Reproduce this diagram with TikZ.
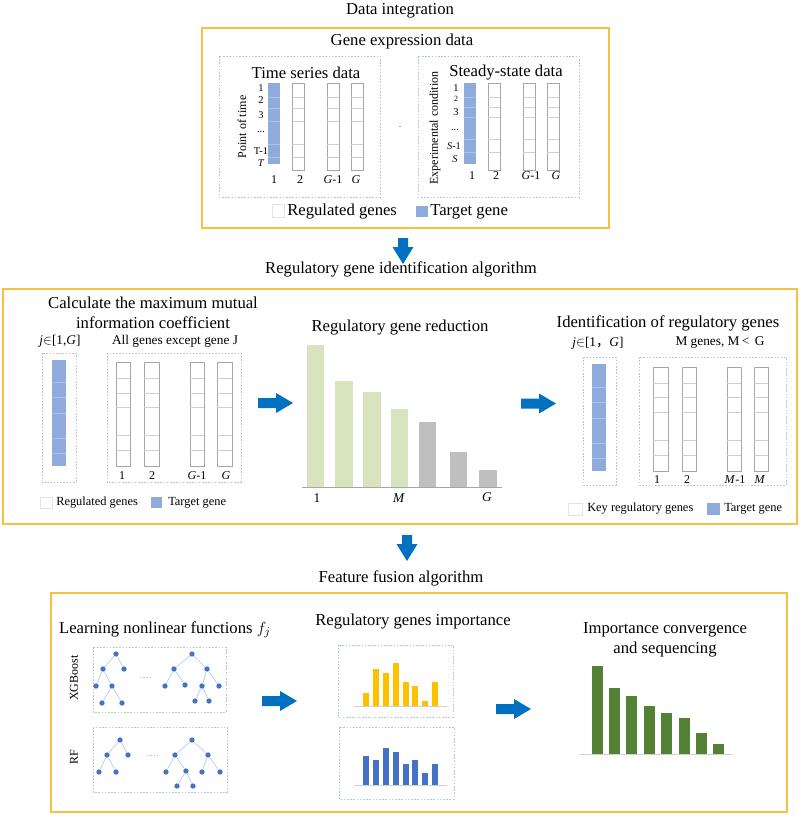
\documentclass[tikz,border=0pt]{standalone}
\usepackage{fontspec}
\setmainfont{Liberation Serif}
\newfontfamily\cjk{Noto Sans CJK SC}
\definecolor{ybox}{HTML}{F4C242}
\definecolor{dashc}{HTML}{B4C7D9}
\definecolor{colline}{HTML}{A6A6A6}
\definecolor{rowc}{HTML}{CFCFCF}
\definecolor{tblue}{HTML}{8FAADC}
\definecolor{tbluel}{HTML}{AEC2E6}
\definecolor{arrowblue}{HTML}{0070C0}
\definecolor{lgreen}{HTML}{D7E4BD}
\definecolor{lgray}{HTML}{BFBFBF}
\definecolor{gold}{HTML}{FFC000}
\definecolor{mblue}{HTML}{4472C4}
\definecolor{dgreen}{HTML}{548235}
\definecolor{edgec}{HTML}{A9C8EA}
\definecolor{axisc}{HTML}{D0D0D0}
\definecolor{legc}{HTML}{E3E3E3}
\newcommand{\gcolW}[5]{\draw[wcol] (#1,#3) rectangle (#2,#4);
  \foreach \r in {#5} {\draw[rowl] (#1,\r) -- (#2,\r);}}
\newcommand{\gcolB}[5]{\fill[tblue] (#1,#3) rectangle (#2,#4);
  \foreach \r in {#5} {\draw[browl] (#1,\r) -- (#2,\r);}}
\begin{document}
\begin{tikzpicture}[x=0.75pt,y=-0.75pt,
  panel/.style={draw=ybox, line width=1.2pt},
  dbox/.style={draw=dashc, line width=0.4pt, dash pattern=on 1.2pt off 1.2pt},
  wcol/.style={draw=colline, line width=0.4pt, fill=white},
  rowl/.style={draw=rowc, line width=0.3pt},
  browl/.style={draw=tbluel, line width=0.3pt},
  title/.style={font=\fontsize{12.5}{15}\selectfont, inner sep=0pt},
  sub/.style={font=\fontsize{10}{12}\selectfont, inner sep=0pt},
  lbl/.style={font=\fontsize{9}{10}\selectfont, inner sep=0pt},
  tinyl/.style={font=\fontsize{7.8}{9}\selectfont, inner sep=0pt},
  leg/.style={font=\fontsize{9.3}{11}\selectfont, inner sep=0pt, anchor=west},
  legbig/.style={font=\fontsize{12.5}{15}\selectfont, inner sep=0pt, anchor=west},
  tnode/.style={circle, fill=mblue, inner sep=0pt, minimum size=4pt},
  tedge/.style={draw=edgec, line width=0.45pt},
  barrowR/.pic={\fill[arrowblue] (0,-5) -- (18,-5) -- (18,-10) -- (35,0) -- (18,10) -- (18,5) -- (0,5) -- cycle;},
  barrowD/.pic={\fill[arrowblue] (-5,0) -- (-5,9) -- (-10.5,9) -- (0,26) -- (10.5,9) -- (5,9) -- (5,0) -- cycle;}
]
\useasboundingbox (0,0) rectangle (800,815);
\fill[white] (0,0) rectangle (800,815);

% ================= TOP PANEL =================
\node[title] (t1) at (400,11) {Data integration};
\draw[panel] (202,28) rectangle (609,228);
\node[title] (ged) at (402,41) {Gene expression data};
\draw[dbox] (219,56) rectangle (380,197);
\draw[dbox] (418,56) rectangle (579,197);
\node[title] (tsd) at (306,73) {Time series data};
\node[title] (ssd) at (506,73) {Steady-state data};
\draw[colline, line width=0.4pt] (398.5,126) -- (401,126);

% time series columns
\gcolB{268}{280}{83}{164}{97,108,121,144,157}
\gcolW{292}{304}{83}{170}{97,108,121,144,157}
\gcolW{327}{339}{83}{170}{97,108,121,144,157}
\gcolW{351}{363}{83}{170}{97,108,121,144,157}
\node[tinyl] (r1) at (261,88) {1};
\node[tinyl] (r2) at (261,100) {2};
\node[tinyl] (r3) at (261,115) {3};
\node[tinyl] (r4) at (261,132) {...};
\node[tinyl] (r5) at (261,151) {T-1};
\node[tinyl] (r6) at (261,163) {\textit{T}};
\node[lbl, rotate=90] (pot) at (242,127) {Point of time};
\node[lbl] (c1) at (274,180) {1};
\node[lbl] (c2) at (300,180) {2};
\node[lbl] (c3) at (333,180) {\textit{G}-1};
\node[lbl] (c4) at (356,180) {\textit{G}};

% steady-state columns
\gcolB{464}{476}{83}{164}{97,107,117,139,152}
\gcolW{488}{500}{83}{170}{97,107,117,139,152}
\gcolW{523}{535}{83}{170}{97,107,117,139,152}
\gcolW{547}{559}{83}{170}{97,107,117,139,152}
\node[tinyl] (s1) at (456,88) {1};
\node[font=\fontsize{6}{7}\selectfont, inner sep=0pt] (s2) at (456,99) {2};
\node[tinyl] (s3) at (456,112) {3};
\node[tinyl] (s4) at (455,130) {...};
\node[tinyl] (s5) at (454,146) {\textit{S}-1};
\node[tinyl] (s6) at (455,159) {\textit{S}};
\node[lbl, rotate=90] (expc) at (435,128) {Experimental condition};
\node[lbl] (d1) at (472,176) {1};
\node[lbl] (d2) at (496,176) {2};
\node[lbl] (d3) at (531,176) {\textit{G}-1};
\node[lbl] (d4) at (556,176) {\textit{G}};

% legend
\draw[legc, fill=white, line width=0.3pt] (272,204) rectangle (284,217);
\node[legbig] (lg1) at (287,212) {Regulated genes};
\fill[tblue] (416,206) rectangle (428,217);
\node[legbig] (lg2) at (430,212) {Target gene};

\pic at (403,238) {barrowD};

% ================= MIDDLE PANEL =================
\node[title] (t2) at (401,269) {Regulatory gene identification algorithm};
\draw[panel] (3,289) rectangle (797,524);

% left part
\node[title, align=center] (cmm) at (153,313) {Calculate the maximum mutual\\information coefficient};
\node[sub] (jin) at (60,341) {\textit{j}$\in$[1,\textit{G}]};
\node[sub] (age) at (175,341) {All genes except gene J};
\draw[dbox] (42,353) rectangle (76,482);
\draw[dbox] (107,353) rectangle (241,482);
\gcolB{52}{66}{360}{466}{382,397,413,438,453}
\gcolW{116}{130}{362}{466}{378,393,407,435,450}
\gcolW{144}{159}{362}{466}{378,393,407,435,450}
\gcolW{190}{204}{362}{466}{378,393,407,435,450}
\gcolW{217}{232}{362}{466}{378,393,407,435,450}
\node[lbl] (m1) at (122,476) {1};
\node[lbl] (m2) at (152,476) {2};
\node[lbl] (m3) at (197,476) {\textit{G}-1};
\node[lbl] (m4) at (226,476) {\textit{G}};
\draw[legc, fill=white, line width=0.3pt] (40,497) rectangle (52,508);
\node[leg] (lg3) at (56,503) {Regulated genes};
\fill[tblue] (151,497) rectangle (162,508);
\node[leg] (lg4) at (168,503) {Target gene};

\pic at (258,403) {barrowR};

% center bar chart
\node[title] (rgr) at (400,328) {Regulatory gene reduction};
\foreach \xa/\xb/\t in {307/324/345, 335/353/381, 363/381/392, 391/408/409}
  {\fill[lgreen] (\xa,\t) rectangle (\xb,487);}
\foreach \xa/\xb/\t in {419/436/422, 450/467/452, 479/497/470}
  {\fill[lgray] (\xa,\t) rectangle (\xb,487);}
\draw[colline, line width=0.4pt] (302,487) -- (502,487);
\node[sub] (b1) at (317,498) {1};
\node[sub] (bM) at (399,498) {\textit{M}};
\node[sub] (bG) at (487,497) {\textit{G}};

\pic at (521,403.5) {barrowR};

% right part
\node[title] (iorg) at (668,323) {Identification of regulatory genes};
\node[sub] (jin2) at (598,343) {\textit{j}$\in$[1{\cjk ，}\textit{G}]};
\node[sub] (mg) at (720,343) {M genes, M\,<\, G};
\draw[dbox] (583,357) rectangle (616,485);
\draw[dbox] (639,357) rectangle (786,485);
\gcolB{592}{606}{364}{471}{387,402,418,443,458}
\gcolW{653}{668}{367}{471}{383,397,412,440,455}
\gcolW{682}{696}{367}{471}{383,397,412,440,455}
\gcolW{727}{741}{367}{471}{383,397,412,440,455}
\gcolW{754}{768}{367}{471}{383,397,412,440,455}
\node[lbl] (k1) at (657,480) {1};
\node[lbl] (k2) at (687,480) {2};
\node[lbl] (k3) at (735,480) {\textit{M}-1};
\node[lbl] (k4) at (760,480) {\textit{M}};
\draw[legc, fill=white, line width=0.3pt] (568,503) rectangle (582,515);
\node[leg] (lg5) at (587,509) {Key regulatory genes};
\fill[tblue] (707,503) rectangle (720,515);
\node[leg] (lg6) at (724,509) {Target gene};

\pic at (407,535) {barrowD};

% ================= BOTTOM PANEL =================
\node[title] (t3) at (401,578) {Feature fusion algorithm};
\draw[panel] (51,593) rectangle (787,812);

\node[title] (lnf) at (165,630) {Learning nonlinear functions $f_j$};
\draw[dbox] (93,647) rectangle (226,712);
\draw[dbox] (93,727) rectangle (227,792);
\node[lbl, rotate=90] (xgb) at (74,678) {XGBoost};
\node[lbl, rotate=90] (rf) at (74,757) {RF};

% XGBoost tree 1
\node[tnode] (a0) at (116,654) {};
\node[tnode] (a1) at (103,669) {};
\node[tnode] (a2) at (124,669) {};
\node[tnode] (a3) at (96,686) {};
\node[tnode] (a4) at (112,686) {};
\node[tnode] (a5) at (102,703) {};
\node[tnode] (a6) at (122,703) {};
\draw[tedge] (a0) -- (a1); \draw[tedge] (a0) -- (a2);
\draw[tedge] (a1) -- (a3); \draw[tedge] (a1) -- (a4);
\draw[tedge] (a4) -- (a5); \draw[tedge] (a4) -- (a6);
\draw[dashc, line width=0.4pt, dash pattern=on 1pt off 1.5pt] (140,677) -- (153,677);
% XGBoost tree 2
\node[tnode] (b0) at (192,654) {};
\node[tnode] (bb1) at (174,669) {};
\node[tnode] (bb2) at (207,669) {};
\node[tnode] (bb3) at (165,686) {};
\node[tnode] (bb4) at (185,685) {};
\node[tnode] (bb5) at (202,686) {};
\node[tnode] (bb6) at (219,686) {};
\node[tnode] (bb7) at (195,701) {};
\node[tnode] (bb8) at (209,701) {};
\draw[tedge] (b0) -- (bb1); \draw[tedge] (b0) -- (bb2);
\draw[tedge] (bb1) -- (bb3); \draw[tedge] (bb1) -- (bb4);
\draw[tedge] (bb2) -- (bb5); \draw[tedge] (bb2) -- (bb6);
\draw[tedge] (bb5) -- (bb7); \draw[tedge] (bb5) -- (bb8);
% RF tree 1
\node[tnode] (c0) at (120,740) {};
\node[tnode] (cc1) at (107,755) {};
\node[tnode] (cc2) at (128,755) {};
\node[tnode] (cc3) at (99,772) {};
\node[tnode] (cc4) at (116,772) {};
\draw[tedge] (c0) -- (cc1); \draw[tedge] (c0) -- (cc2);
\draw[tedge] (cc1) -- (cc3); \draw[tedge] (cc1) -- (cc4);
\draw[dashc, line width=0.4pt, dash pattern=on 1pt off 1.5pt] (147,755) -- (160,755);
% RF tree 2
\node[tnode] (e0) at (192,740) {};
\node[tnode] (e1) at (175,755) {};
\node[tnode] (e2) at (208,755) {};
\node[tnode] (e3) at (166,772) {};
\node[tnode] (e4) at (186,771) {};
\node[tnode] (e5) at (202,772) {};
\node[tnode] (e6) at (220,772) {};
\node[tnode] (e7) at (177,786) {};
\node[tnode] (e8) at (193,786) {};
\draw[tedge] (e0) -- (e1); \draw[tedge] (e0) -- (e2);
\draw[tedge] (e1) -- (e3); \draw[tedge] (e1) -- (e4);
\draw[tedge] (e2) -- (e5); \draw[tedge] (e2) -- (e6);
\draw[tedge] (e4) -- (e7); \draw[tedge] (e4) -- (e8);

\pic at (262,701) {barrowR};

% importance charts
\node[title] (rgi) at (413,622) {Regulatory genes importance};
\draw[dbox] (338,645) rectangle (453,717);
\draw[dbox] (339,727) rectangle (454,799);
\foreach \xa/\t in {363/693, 373/669, 383/673, 393/663, 403/682, 412/686, 422/701, 432/682}
  {\fill[gold] (\xa,\t) rectangle ++(6,706-\t);}
\draw[axisc, line width=0.4pt] (354,706) -- (447,706);
\foreach \xa/\t in {363/756, 373/760, 383/748, 393/752, 403/764, 412/760, 422/773, 432/764}
  {\fill[mblue] (\xa,\t) rectangle ++(6,785-\t);}
\draw[axisc, line width=0.4pt] (354,785) -- (447,785);

\pic at (496,709) {barrowR};

\node[title, align=center] (ics) at (665,640) {Importance convergence\\and sequencing};
\foreach \xa/\t in {592/666, 609/688, 626/696, 644/706, 661/713, 679/718, 696/733, 713/744}
  {\fill[dgreen] (\xa,\t) rectangle ++(11,754-\t);}
\draw[axisc, line width=0.4pt] (580,754) -- (732,754);
\end{tikzpicture}
\end{document}
